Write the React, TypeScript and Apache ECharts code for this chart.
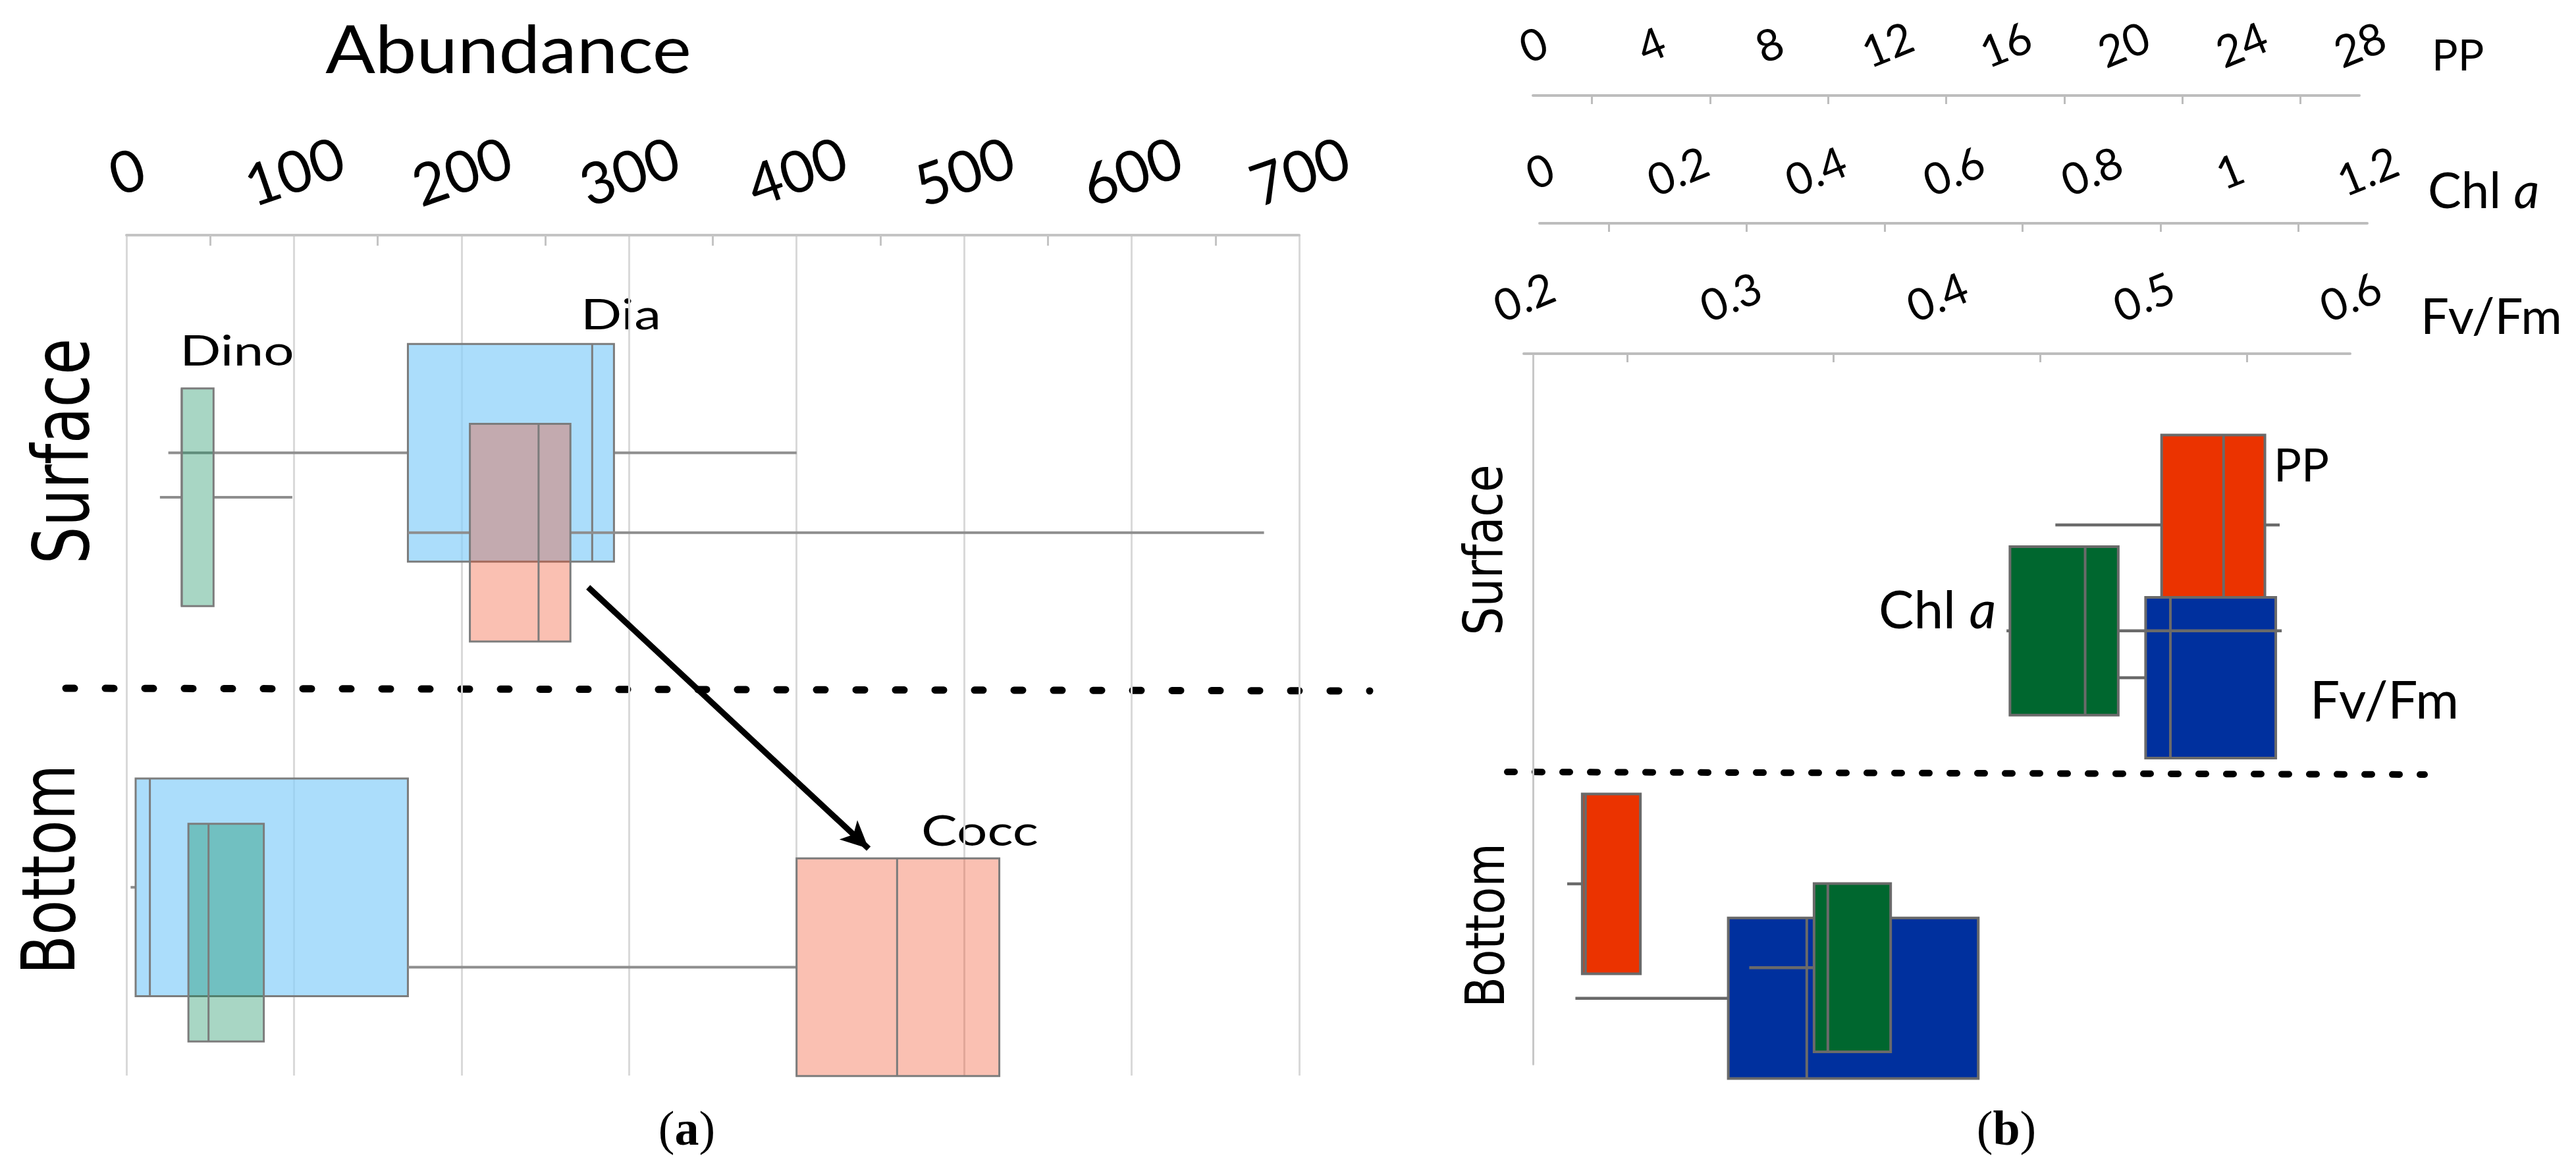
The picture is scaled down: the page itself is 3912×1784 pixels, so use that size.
import React, { useEffect, useRef } from 'react';
import * as echarts from 'echarts';

const W = 3912;
const H = 1784;

// ---------- Panel (a): abundance ----------
const ABUND_MIN = 0;
const ABUND_MAX = 700;
const ABUND_STEP = 100;
// [min, q1, median, q3, max]; first = Surface, second = Bottom
const DIA_STATS = [[25, 168, 278, 291, 400], [2.5, 5.5, 14, 168, 168]];
const DINO_STATS = [[20, 33, 33, 52, 99], [37, 37, 49, 82, 82]];
const COCC_STATS = [[168, 205, 246, 265, 679], [168, 400, 460, 521, 521]];
// vertical row positions (% of plot height, from top)
const DIA_ROWS = [25.9, 77.6];
const DINO_ROWS = [31.2, 83.0];
const COCC_ROWS = [35.4, 87.1];
const A_BOX_HEIGHT = 25.9;
const ARROW_FROM = [275.6, 41.9];
const ARROW_TO = [443, 73.0];

// ---------- Panel (b): PP, Chl a, Fv/Fm ----------
const PP_AXIS = [0, 28, 4];
const CHL_AXIS = [0, 1.2, 0.2];
const FV_AXIS = [0.2, 0.6, 0.1];
const PP_STATS = [[17.7, 21.3, 23.4, 24.8, 25.3], [1.16, 1.67, 1.78, 3.64, 3.64]];
const CHL_STATS = [[0.677, 0.682, 0.791, 0.839, 1.076], [0.304, 0.398, 0.418, 0.509, 0.509]];
const FV_STATS = [[0.488, 0.501, 0.513, 0.564, 0.564], [0.225, 0.299, 0.337, 0.42, 0.42]];
const PP_ROWS = [24.1, 74.6];
const CHL_ROWS = [39.0, 86.4];
const FV_ROWS = [45.6, 90.7];
const PP_BOX_HEIGHT = 25.3;
const CHL_BOX_HEIGHT = 23.7;
const FV_BOX_HEIGHT = 22.6;

function boxRenderer(
  boxH: number,
  fill: string,
  stroke: string,
  strokeW: number,
  whiskerColor: string,
  whiskerW: number
) {
  return (params: any, api: any) => {
    const row = api.value(5);
    const p = [0, 1, 2, 3, 4].map((i) => api.coord([api.value(i), row]));
    const size = api.size([0, boxH]);
    const h = Math.abs(size[1]);
    const cy = p[1][1];
    const top = cy - h / 2;
    const children: any[] = [];
    if (p[1][0] - p[0][0] > 0.5) {
      children.push({
        type: 'line',
        shape: { x1: p[0][0], y1: cy, x2: p[1][0], y2: cy },
        style: { stroke: whiskerColor, lineWidth: whiskerW },
      });
    }
    if (p[4][0] - p[3][0] > 0.5) {
      children.push({
        type: 'line',
        shape: { x1: p[3][0], y1: cy, x2: p[4][0], y2: cy },
        style: { stroke: whiskerColor, lineWidth: whiskerW },
      });
    }
    children.push({
      type: 'rect',
      shape: { x: p[1][0], y: top, width: p[3][0] - p[1][0], height: h },
      style: { fill, stroke, lineWidth: strokeW },
    });
    children.push({
      type: 'line',
      shape: { x1: p[2][0], y1: top, x2: p[2][0], y2: top + h },
      style: { stroke, lineWidth: strokeW },
    });
    return { type: 'group', children };
  };
}

const toData = (stats: number[][], rows: number[]) => stats.map((s, i) => [...s, rows[i]]);

function topAxis(
  gridIndex: number,
  range: number[],
  offset: number,
  margin: number,
  fontSize: number,
  rotate: number,
  lineColor: string,
  lineW: number,
  minorLen: number,
  split: boolean
) {
  return {
    type: 'value',
    gridIndex,
    position: 'top',
    offset,
    min: range[0],
    max: range[1],
    interval: range[2],
    axisLine: { show: true, onZero: false, lineStyle: { color: lineColor, width: lineW } },
    axisTick: { show: false, inside: true },
    minorTick: { show: true, splitNumber: 2, length: minorLen, lineStyle: { color: lineColor, width: 3 } },
    splitLine: { show: split, lineStyle: { color: '#d9d9d9', width: 3 } },
    axisLabel: {
      rotate,
      align: 'center',
      verticalAlign: 'middle',
      margin,
      fontSize,
      fontFamily: 'Lato',
      color: '#000',
    },
  };
}

function hiddenY(gridIndex: number, showLine: boolean) {
  return {
    type: 'value',
    gridIndex,
    min: 0,
    max: 100,
    inverse: true,
    axisLine: { show: showLine, onZero: false, lineStyle: { color: '#c8c8c8', width: 3 } },
    axisTick: { show: false },
    axisLabel: { show: false },
    splitLine: { show: false },
  };
}

function txt(text: string, x: number, y: number, size: number, opts: any = {}) {
  return {
    type: 'text',
    x,
    y,
    rotation: opts.rotation || 0,
    scaleX: opts.scaleX || 1,
    scaleY: opts.scaleY || 1,
    style: {
      text,
      fontSize: size,
      fontFamily: opts.family || 'Lato',
      fill: '#000',
      align: opts.align || 'center',
      verticalAlign: 'middle',
      rich: opts.rich,
    },
  };
}

const A_STROKE = '#7c7c7c';
const A_WHISK = '#8e8e8e';
const B_STROKE = '#6a6a6a';

function buildOption() {
  return {
    animation: false,
    backgroundColor: '#ffffff',
    grid: [
      { left: 192, right: W - 1973, top: 357, bottom: H - 1633 },
      { left: 2328, right: W - 3583, top: 537, bottom: H - 1616 },
      { left: 2338, right: W - 3595, top: 537, bottom: H - 1616 },
      { left: 2314, right: W - 3569, top: 537, bottom: H - 1616 },
    ],
    xAxis: [
      topAxis(0, [ABUND_MIN, ABUND_MAX, ABUND_STEP], 0, 99, 88, -19, '#c4c4c4', 4, 16, true),
      topAxis(1, PP_AXIS, 392, 79, 67, -22, '#bdbdbd', 4, 13, false),
      topAxis(2, CHL_AXIS, 198, 81, 67, -22, '#bdbdbd', 4, 13, false),
      topAxis(3, FV_AXIS, 0, 88, 67, -22, '#bdbdbd', 4, 13, false),
    ],
    yAxis: [
      { ...hiddenY(0, false), show: false },
      hiddenY(1, true),
      { ...hiddenY(2, false), show: false },
      { ...hiddenY(3, false), show: false },
    ],
    series: [
      {
        type: 'custom',
        name: 'Dia',
        xAxisIndex: 0,
        yAxisIndex: 0,
        clip: false,
        encode: { x: [0, 1, 2, 3, 4], y: 5 },
        renderItem: boxRenderer(A_BOX_HEIGHT, 'rgba(135,206,250,0.7)', A_STROKE, 3, A_WHISK, 4),
        data: toData(DIA_STATS, DIA_ROWS),
      },
      {
        type: 'custom',
        name: 'Dino',
        xAxisIndex: 0,
        yAxisIndex: 0,
        clip: false,
        encode: { x: [0, 1, 2, 3, 4], y: 5 },
        renderItem: boxRenderer(A_BOX_HEIGHT, 'rgba(6,138,86,0.35)', A_STROKE, 3, A_WHISK, 4),
        data: toData(DINO_STATS, DINO_ROWS),
      },
      {
        type: 'custom',
        name: 'Cocc',
        xAxisIndex: 0,
        yAxisIndex: 0,
        clip: false,
        encode: { x: [0, 1, 2, 3, 4], y: 5 },
        renderItem: boxRenderer(A_BOX_HEIGHT, 'rgba(241,75,35,0.35)', A_STROKE, 3, A_WHISK, 4),
        data: toData(COCC_STATS, COCC_ROWS),
        markLine: {
          silent: true,
          symbol: ['none', 'arrow'],
          symbolSize: [30, 42],
          label: { show: false },
          lineStyle: { color: '#000', width: 9, type: 'solid' },
          emphasis: { disabled: true },
          data: [[{ coord: ARROW_FROM }, { coord: ARROW_TO }]],
        },
      },
      {
        type: 'custom',
        name: 'PP',
        xAxisIndex: 1,
        yAxisIndex: 1,
        clip: false,
        encode: { x: [0, 1, 2, 3, 4], y: 5 },
        renderItem: boxRenderer(PP_BOX_HEIGHT, '#eb3300', B_STROKE, 4, B_STROKE, 4.5),
        data: toData(PP_STATS, PP_ROWS),
      },
      {
        type: 'custom',
        name: 'Fv/Fm',
        xAxisIndex: 3,
        yAxisIndex: 3,
        clip: false,
        encode: { x: [0, 1, 2, 3, 4], y: 5 },
        renderItem: boxRenderer(FV_BOX_HEIGHT, '#00309e', B_STROKE, 4, B_STROKE, 4.5),
        data: toData(FV_STATS, FV_ROWS),
      },
      {
        type: 'custom',
        name: 'Chl a',
        xAxisIndex: 2,
        yAxisIndex: 2,
        clip: false,
        encode: { x: [0, 1, 2, 3, 4], y: 5 },
        renderItem: boxRenderer(CHL_BOX_HEIGHT, '#00672f', B_STROKE, 4, B_STROKE, 4.5),
        data: toData(CHL_STATS, CHL_ROWS),
      },
    ],
    graphic: [
      // separators
      {
        type: 'line',
        shape: { x1: 100, y1: 1045, x2: 2080, y2: 1049 },
        style: { stroke: '#000', lineWidth: 11, lineDash: [13, 47], lineCap: 'round' },
      },
      {
        type: 'line',
        shape: { x1: 2289, y1: 1172, x2: 3682, y2: 1176 },
        style: { stroke: '#000', lineWidth: 10, lineDash: [11, 31], lineCap: 'round' },
      },
      // panel (a) texts
      txt('Abundance', 772, 72, 100, { scaleX: 1.12 }),
      txt('Dino', 360, 530, 64, { scaleX: 1.28 }),
      txt('Dia', 943, 475, 64, { scaleX: 1.28 }),
      txt('Cocc', 1488, 1259, 64, { scaleX: 1.28 }),
      txt('Surface', 94, 685, 90, { family: 'DejaVu Sans', rotation: Math.PI / 2, scaleY: 1.3 }),
      txt('Bottom', 74, 1320, 87, { family: 'DejaVu Sans', rotation: Math.PI / 2, scaleY: 1.3 }),
      txt('{p|(}{b|a}{p|)}', 1043, 1713, 74, {
        family: 'Liberation Serif',
        rich: {
          p: { fontFamily: 'Liberation Serif', fontSize: 74, fill: '#000' },
          b: { fontFamily: 'Liberation Serif', fontSize: 74, fontWeight: 'bold', fill: '#000' },
        },
      }),
      // panel (b) texts
      txt('Surface', 2253, 835, 68, { family: 'DejaVu Sans', rotation: Math.PI / 2, scaleY: 1.2 }),
      txt('Bottom', 2256, 1405, 68, { family: 'DejaVu Sans', rotation: Math.PI / 2, scaleY: 1.2 }),
      txt('PP', 3453, 704, 70, { align: 'left' }),
      txt('{n|Chl }{i|a}', 2853, 923, 80, {
        align: 'left',
        rich: {
          n: { fontFamily: 'Lato', fontSize: 80, fill: '#000' },
          i: { fontFamily: 'Lato', fontSize: 80, fontStyle: 'italic', fill: '#000' },
        },
      }),
      txt('Fv/Fm', 3508, 1060, 80, { align: 'left' }),
      txt('PP', 3693, 81, 66, { align: 'left' }),
      txt('{n|Chl }{i|a}', 3687, 286, 76, {
        align: 'left',
        rich: {
          n: { fontFamily: 'Lato', fontSize: 76, fill: '#000' },
          i: { fontFamily: 'Lato', fontSize: 76, fontStyle: 'italic', fill: '#000' },
        },
      }),
      txt('Fv/Fm', 3676, 477, 76, { align: 'left' }),
      txt('{p|(}{b|b}{p|)}', 3047, 1713, 74, {
        family: 'Liberation Serif',
        rich: {
          p: { fontFamily: 'Liberation Serif', fontSize: 74, fill: '#000' },
          b: { fontFamily: 'Liberation Serif', fontSize: 74, fontWeight: 'bold', fill: '#000' },
        },
      }),
    ],
  };
}

export default function App() {
  const ref = useRef<HTMLDivElement>(null);
  useEffect(() => {
    if (!ref.current) return;
    const chart = echarts.init(ref.current, null, { renderer: 'svg' });
    chart.setOption(buildOption() as any);
    return () => chart.dispose();
  }, []);
  return (
    <div
      ref={ref}
      style={{ position: 'absolute', left: 0, top: 0, width: W, height: H, background: '#fff' }}
    />
  );
}
